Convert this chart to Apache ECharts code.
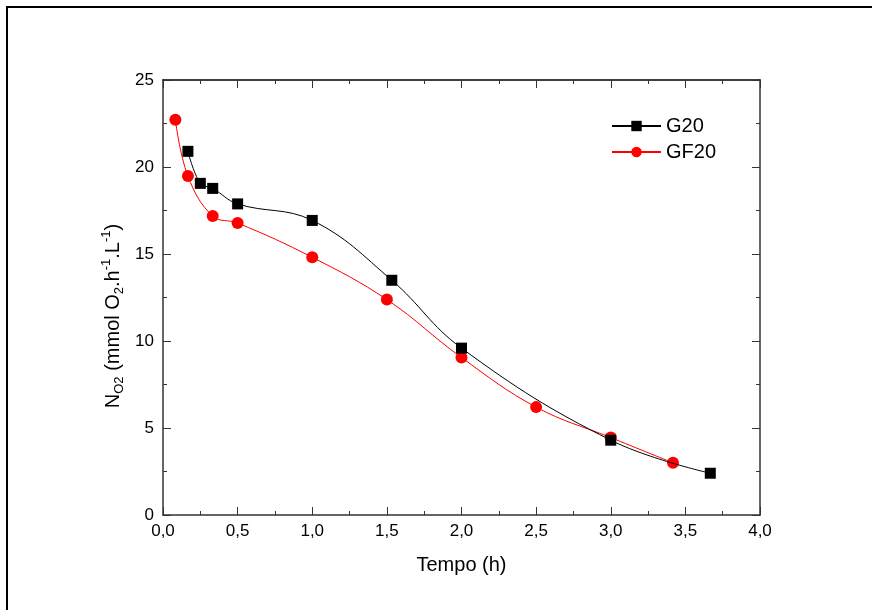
<!DOCTYPE html>
<html>
<head>
<meta charset="utf-8">
<script src="https://cdn.jsdelivr.net/npm/echarts@6/dist/echarts.min.js"></script>
<style>html,body{margin:0;padding:0;background:#fff}#c{width:872px;height:610px}</style>
</head>
<body>
<div id="c"></div>
<script>
const xTicks = [0, 0.5, 1, 1.5, 2, 2.5, 3, 3.5, 4];
const yTicks = [0, 5, 10, 15, 20, 25];
const g20X = [0.167, 0.25, 0.333, 0.5, 1.0, 1.533, 2.0, 3.0, 3.667];
const g20Y = [20.9, 19.06, 18.77, 17.88, 16.93, 13.49, 9.59, 4.3, 2.4];
const gf20X = [0.083, 0.167, 0.333, 0.5, 1.0, 1.5, 2.0, 2.5, 3.0, 3.417];
const gf20Y = [22.71, 19.48, 17.18, 16.78, 14.81, 12.38, 9.05, 6.2, 4.45, 3.0];
const seriesNames = ['G20', 'GF20'];

const FONT = 'Liberation Sans, Arial, sans-serif';
const axisCol = '#333';
const chart = echarts.init(document.getElementById('c'));
const fmt = v => v.toFixed(1).replace('.', ',');

function baseAxis(extra) {
  return Object.assign({
    type: 'value',
    axisLine: { show: true, onZero: false, lineStyle: { color: axisCol, width: 1.5 } },
    axisTick: { show: true, inside: true, length: 8, lineStyle: { color: axisCol, width: 1 } },
    minorTick: { show: true, splitNumber: 2, length: 4, lineStyle: { color: axisCol, width: 1 } },
    splitLine: { show: false },
    minorSplitLine: { show: false }
  }, extra);
}

chart.setOption({
  animation: false,
  backgroundColor: '#fff',
  grid: { left: 163, right: 112, top: 80, bottom: 95 },
  xAxis: [
    baseAxis({ position: 'bottom', min: xTicks[0], max: xTicks[xTicks.length - 1], interval: 0.5,
      axisLabel: { formatter: fmt, color: '#000', fontSize: 17, fontFamily: FONT, margin: 8 },
      name: 'Tempo (h)', nameLocation: 'middle', nameGap: 40,
      nameTextStyle: { color: '#000', fontSize: 20, fontFamily: FONT } }),
    baseAxis({ position: 'top', min: xTicks[0], max: xTicks[xTicks.length - 1], interval: 0.5,
      axisLabel: { show: false }, axisLine: { show: true, onZero: false, lineStyle: { color: '#000', width: 1.5 } } })
  ],
  yAxis: [
    baseAxis({ position: 'left', min: yTicks[0], max: yTicks[yTicks.length - 1], interval: 5,
      axisLabel: { color: '#000', fontSize: 17, fontFamily: FONT, margin: 9 } }),
    baseAxis({ position: 'right', min: yTicks[0], max: yTicks[yTicks.length - 1], interval: 5,
      axisLabel: { show: false } })
  ],
  legend: {
    orient: 'vertical', left: 606, top: 111,
    itemWidth: 49, itemHeight: 13, itemGap: 6,
    textStyle: { color: '#000', fontSize: 20, fontFamily: FONT },
    data: seriesNames
  },
  graphic: [
    { type: 'line', shape: { x1: 6, y1: 7, x2: 872, y2: 7 }, style: { stroke: '#000', lineWidth: 2 } },
    { type: 'line', shape: { x1: 7, y1: 7, x2: 7, y2: 610 }, style: { stroke: '#000', lineWidth: 2 } },
    { type: 'text', x: 113, y: 316, rotation: Math.PI / 2,
      style: {
        text: '{n|N}{s|O2}{n| (mmol O}{s|2}{n|.h}{p|-1}{n|.L}{p|-1}{n|)}',
        align: 'center', verticalAlign: 'middle',
        rich: {
          n: { fontSize: 20, fontFamily: FONT, fill: '#000', lineHeight: 26, verticalAlign: 'middle' },
          s: { fontSize: 13, fontFamily: FONT, fill: '#000', lineHeight: 26, verticalAlign: 'bottom' },
          p: { fontSize: 13, fontFamily: FONT, fill: '#000', lineHeight: 26, verticalAlign: 'top' }
        }
      }
    }
  ],
  series: [
    {
      name: seriesNames[0], type: 'line', xAxisIndex: 0, yAxisIndex: 0,
      data: g20X.map((x, i) => [x, g20Y[i]]),
      smooth: 0.4, symbol: 'rect', symbolSize: 11,
      itemStyle: { color: '#000' }, lineStyle: { color: '#000', width: 1 }, z: 3
    },
    {
      name: seriesNames[1], type: 'line', xAxisIndex: 0, yAxisIndex: 0,
      data: gf20X.map((x, i) => [x, gf20Y[i]]),
      smooth: 0.4, symbol: 'circle', symbolSize: 12,
      itemStyle: { color: '#ff0000' }, lineStyle: { color: '#ff0000', width: 1 }, z: 2
    }
  ]
});
</script>
</body>
</html>
